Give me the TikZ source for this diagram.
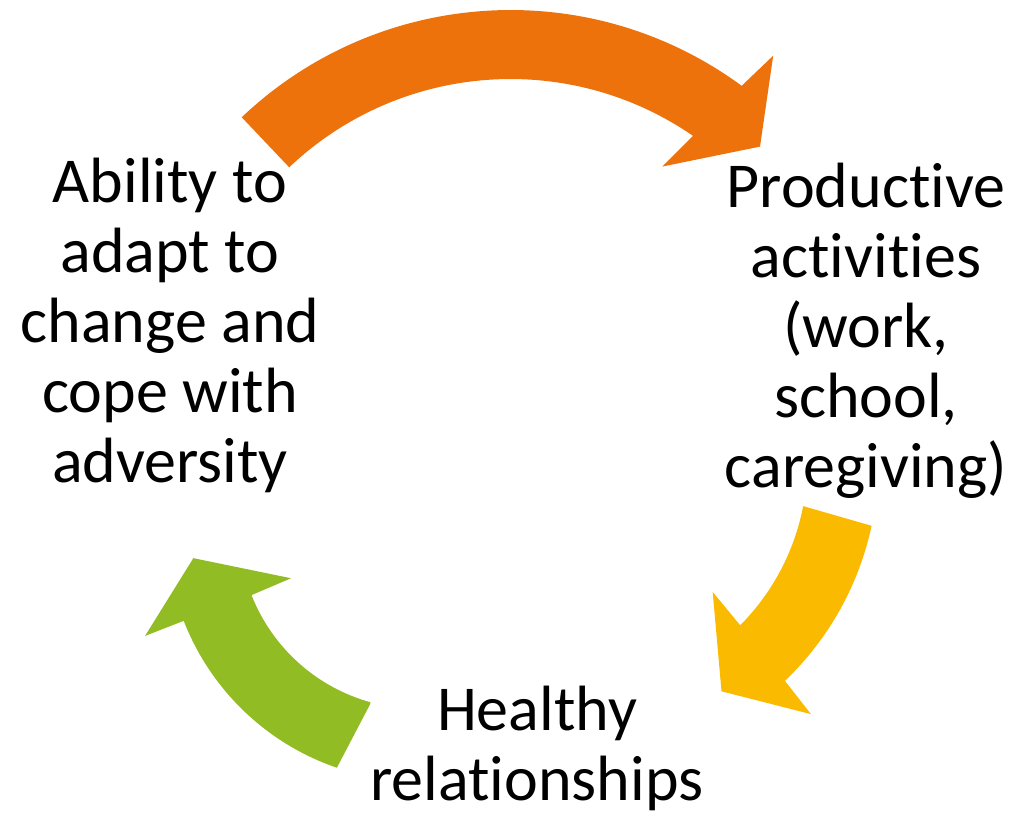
\documentclass[tikz,border=0pt]{standalone}
\usepackage{fontspec}
\setmainfont{Carlito}[Ligatures=NoCommon]

\definecolor{arrowOrange}{RGB}{237,114,12}
\definecolor{arrowGold}{RGB}{250,186,0}
\definecolor{arrowGreen}{RGB}{146,188,36}

\begin{document}
\begin{tikzpicture}[x=0.5pt, y=-0.5pt,
  phase/.style={align=center, inner sep=0pt, anchor=base,
    font=\fontsize{32}{35}\selectfont}]

  \useasboundingbox (0,0) rectangle (1020,816);

  % top arrow
  \begin{scope}[shift={(510.5,400.5)}]
    \fill[arrowOrange] (-133.5:321.5) -- (-133.5:390.5)
      arc[start angle=-133.5, end angle=-53.7, radius=390.5]
      -- (-52.7:433.5) -- (-45.5:356) -- (-57:279) -- (-55.4:321.5)
      arc[start angle=-55.4, end angle=-133.5, radius=321.5] -- cycle;
  \end{scope}

  % right arrow
  \begin{scope}[shift={(576.3,462.5)}]
    \fill[arrowGold] (10.9:232) -- (12.1:302)
      arc[start angle=12.1, end angle=46.3, radius=302]
      -- (47:344) -- (57.6:271) -- (43.5:188) -- (44.8:231)
      arc[start angle=44.8, end angle=10.9, radius=231] -- cycle;
  \end{scope}

  % left arrow
  \begin{scope}[shift={(418.5,529.3)}]
    \fill[arrowGreen] (105.5:182) -- (108.9:252)
      arc[start angle=108.9, end angle=158.7, radius=252]
      -- (158.7:293.5) -- (172.7:227) -- (159:136.5) -- (158.5:179.5)
      arc[start angle=158.5, end angle=105.5, radius=179.5] -- cycle;
  \end{scope}

  \node[phase] (ability) at (170,482)
    {Ability to\\adapt to\\change and\\cope with\\adversity};
  \node[phase] (productive) at (866,487)
    {Productive\\activities\\(work,\\school,\\caregiving)};
  \node[phase] (healthy) at (537,800)
    {Healthy\\relationships};

\end{tikzpicture}
\end{document}
